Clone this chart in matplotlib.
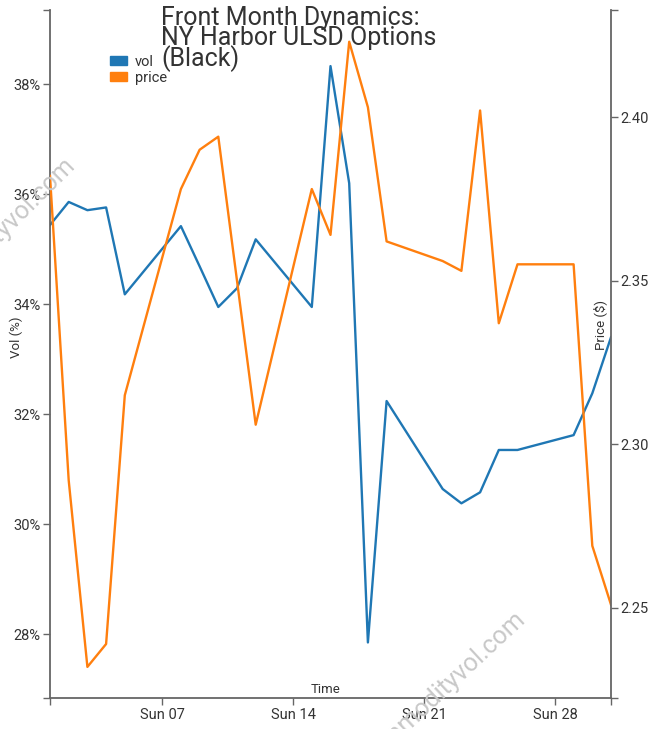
import pandas as pd
import matplotlib.pyplot as plt
import matplotlib.dates as mdates
from matplotlib.patches import Patch
from matplotlib.ticker import FuncFormatter

plt.rcParams['font.family'] = ['Roboto', 'DejaVu Sans']

days = ['2021-03-01', '2021-03-02', '2021-03-03', '2021-03-04', '2021-03-05',
        '2021-03-08', '2021-03-09', '2021-03-10', '2021-03-11', '2021-03-12',
        '2021-03-15', '2021-03-16', '2021-03-17', '2021-03-18', '2021-03-19',
        '2021-03-22', '2021-03-23', '2021-03-24', '2021-03-25', '2021-03-26',
        '2021-03-29', '2021-03-30', '2021-03-31']
vol = [35.44, 35.86, 35.71, 35.76, 34.18,
       35.42, 34.69, 33.95, 34.29, 35.18,
       33.95, 38.33, 36.20, 27.85, 32.24,
       30.64, 30.38, 30.58, 31.35, 31.35,
       31.62, 32.38, 33.40]
price = [2.382, 2.289, 2.232, 2.239, 2.315,
         2.378, 2.390, 2.394, 2.350, 2.306,
         2.378, 2.364, 2.423, 2.403, 2.362,
         2.356, 2.353, 2.402, 2.337, 2.355,
         2.355, 2.269, 2.251]

dates = pd.to_datetime(days)
grey = '#666666'
txt = '#333333'

fig = plt.figure(figsize=(6.53, 7.29), dpi=100)
ax = fig.add_axes([50/653, 1-698/729, 561/653, 688/729])
ax2 = ax.twinx()

ax.plot(dates, vol, color='#1f77b4', lw=1.7)
ax2.plot(dates, price, color='#ff7f0e', lw=1.7)

x0, x1 = pd.Timestamp('2021-03-01'), pd.Timestamp('2021-03-31')
ax.set_xlim(x0, x1)
ax.set_ylim(26.84, 39.35)
ax2.set_ylim(2.2225, 2.4327)

ax.xaxis.set_major_locator(mdates.WeekdayLocator(byweekday=mdates.SU))
ax.xaxis.set_major_formatter(mdates.DateFormatter('Sun %d'))
ax.xaxis.set_minor_locator(plt.FixedLocator([mdates.date2num(x0), mdates.date2num(x1)]))
ax.set_yticks([28, 30, 32, 34, 36, 38])
ax.yaxis.set_major_formatter(FuncFormatter(lambda v, p: '%d%%' % v))
ax.set_yticks([26.84, 39.35], minor=True)
ax2.set_yticks([2.25, 2.30, 2.35, 2.40])
ax2.yaxis.set_major_formatter(FuncFormatter(lambda v, p: '%.2f' % v))
ax2.set_yticks([2.2225, 2.4327], minor=True)

for a in (ax, ax2):
    for s in a.spines.values():
        s.set_color(grey)
        s.set_linewidth(1.3)
    a.spines['top'].set_visible(False)
    a.tick_params(which='both', length=5, width=1, color=grey, labelsize=10.5,
                  labelcolor=txt, pad=2)
ax2.spines['left'].set_visible(False)
ax2.spines['bottom'].set_visible(False)
ax.spines['right'].set_visible(False)

ax.text(-0.0606, 0.525, 'Vol (%)', transform=ax.transAxes, rotation=90,
        ha='center', va='center', fontsize=9.5, color=txt)
ax2.text(0.993, 0.542, 'Price ($)', transform=ax.transAxes, rotation=90,
         ha='right', va='center', fontsize=9.5, color=txt)
ax.text(0.492, 0.007, 'Time', transform=ax.transAxes, ha='center',
        va='baseline', fontsize=9.5, color=txt)

fig.text(161/653, 1-6/729, 'Front Month Dynamics:\nNY Harbor ULSD Options\n(Black)',
         ha='left', va='top', fontsize=18, linespacing=0.78, color=txt)

handles = [Patch(color='#1f77b4', label='vol'), Patch(color='#ff7f0e', label='price')]
ax.legend(handles=handles, loc='upper left', bbox_to_anchor=(110/653, 1-55/729),
          bbox_transform=fig.transFigure, frameon=False, fontsize=10.5,
          handlelength=1.16, handleheight=0.55, handletextpad=0.55,
          labelspacing=0.12, borderpad=0, borderaxespad=0, labelcolor=txt)

fig.text(77/653, 1-166/729, 'commodityvol.com', rotation=45, rotation_mode='anchor',
         ha='right', va='baseline', fontsize=18, color='#c8c8c8')
fig.text(527/653, 1-620/729, 'commodityvol.com', rotation=43, rotation_mode='anchor',
         ha='right', va='baseline', fontsize=18, color='#c8c8c8')

fig.savefig('out.png', dpi=100)
